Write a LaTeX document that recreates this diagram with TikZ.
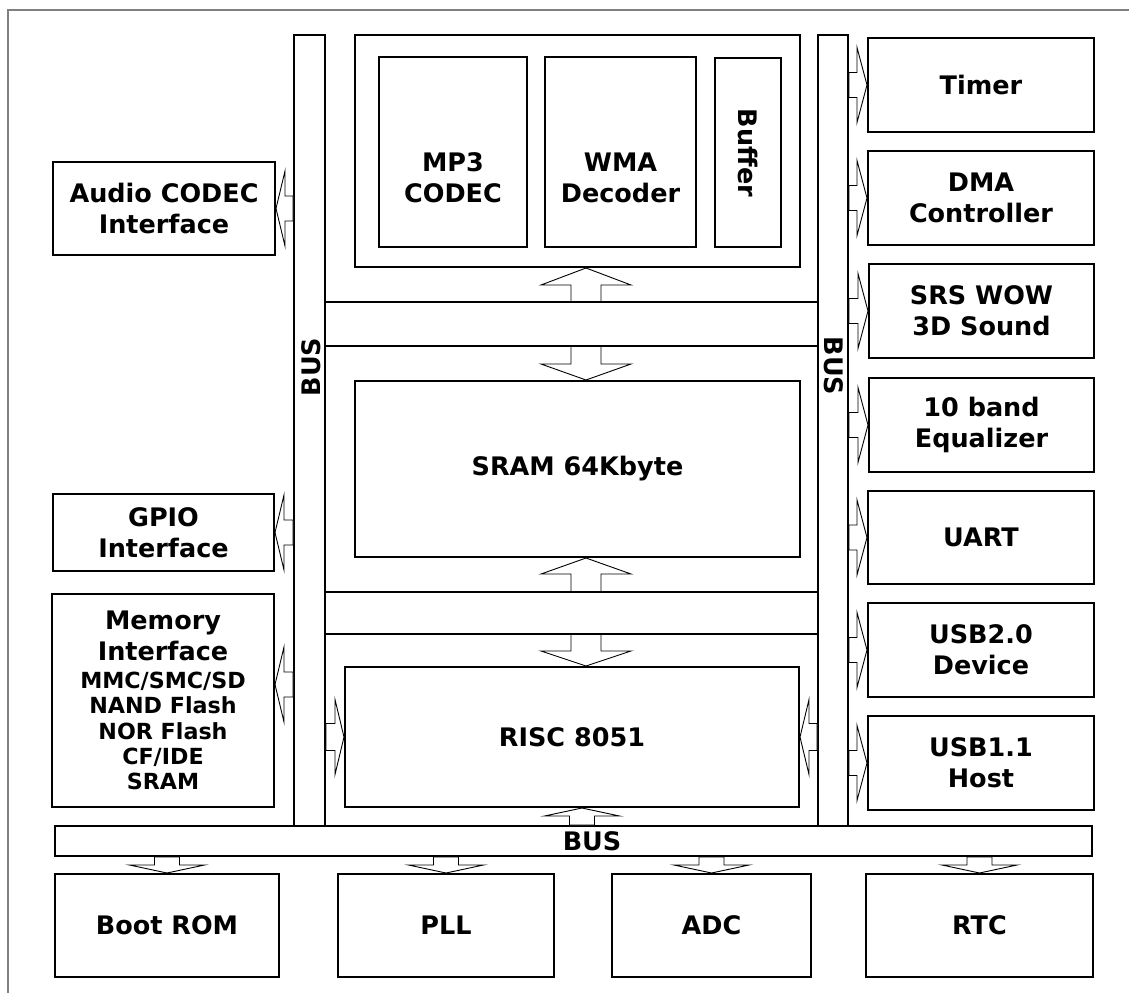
\documentclass[tikz,border=0pt]{standalone}
\usepackage{fontspec}
\setmainfont{DejaVu Sans}
\usetikzlibrary{calc}
\tikzset{
  every node/.style={font=\bfseries\fontsize{25.5}{31}\selectfont, align=center, inner sep=0pt},
  box/.style={draw, line width=2pt},
  band/.style={minimum height=0pt, outer sep=0pt},
  bl/.style={line width=2pt},
  blk/.style={draw, fill=white, line width=0.9pt},
  smalltxt/.style={font=\bfseries\fontsize{22.2}{25.3}\selectfont},
  frame/.style={draw=gray, line width=1.5pt}
}
\newcommand\mkbox[6]{\node[box, minimum width={#4-#2}, minimum height={#5-#3}] (#1) at ({(#2+#4)/2},{(#3+#5)/2}) {#6};}
% horizontal block arrow: tail, tip, shaft half, head half, head length
\newcommand\harr[5]{\draw[blk] let \p1=#1, \p2=#2, \p3=($#2!#5!#1$) in
 ({\x1},{\y2+#3}) -- ({\x3},{\y2+#3}) -- ({\x3},{\y2+#4}) -- ({\x2},{\y2}) -- ({\x3},{\y2-#4}) -- ({\x3},{\y2-#3}) -- ({\x1},{\y2-#3}) -- cycle;}
% vertical block arrow
\newcommand\varr[5]{\draw[blk] let \p1=#1, \p2=#2, \p3=($#2!#5!#1$) in
 ({\x2+#3},{\y1}) -- ({\x2+#3},{\y3}) -- ({\x2+#4},{\y3}) -- ({\x2},{\y2}) -- ({\x2-#4},{\y3}) -- ({\x2-#3},{\y3}) -- ({\x2-#3},{\y1}) -- cycle;}
\begin{document}
\begin{tikzpicture}[x=1pt,y=-1pt]
\useasboundingbox (0,0) rectangle (1129,993);
\draw[frame] (8,993) -- (8,10) -- (1129,10);

% buses
\mkbox{lbus}{294}{35}{325}{826}{}
\mkbox{rbus}{818}{35}{848}{826}{}
\mkbox{bbus}{55}{826}{1092}{856}{}
\node[rotate=90] (lbusl) at (311,367) {BUS};
\node[rotate=-90] (rbusl) at (834,366) {BUS};
\node (bbusl) at (592,841) {BUS};

% central blocks
\mkbox{topc}{355}{35}{800}{267}{}
\mkbox{mp3}{379}{57}{527}{247}{}
\mkbox{wma}{545}{57}{696}{247}{}
\mkbox{buf}{715}{58}{781}{247}{}
\node (mp3t) at (453,178) {MP3\\CODEC};
\node (wmat) at (620.5,178) {WMA\\Decoder};
\node[rotate=-90] (buft) at (748,153) {Buffer};
\mkbox{sram}{355}{381}{800}{557}{SRAM 64Kbyte}
\mkbox{risc}{345}{667}{799}{807}{RISC 8051}

% bands
\node[band, minimum width=493, minimum height=44] (b1) at (571.5,324) {};
\node[band, minimum width=493, minimum height=42] (b2) at (571.5,613) {};

% left blocks
\mkbox{audio}{53}{162}{275}{255}{Audio CODEC\\Interface}
\mkbox{gpio}{53}{494}{274}{571}{GPIO\\Interface}
\mkbox{mem}{52}{594}{274}{807}{}
\node (memt1) at (163,636) {Memory\\Interface};
\node[smalltxt] (memt2) at (163,731) {MMC/SMC/SD\\NAND Flash\\NOR Flash\\CF/IDE\\SRAM};

% right blocks
\mkbox{timer}{868}{38}{1094}{132}{Timer}
\mkbox{dma}{868}{151}{1094}{245}{DMA\\Controller}
\mkbox{srs}{869}{264}{1094}{358}{SRS WOW\\3D Sound}
\mkbox{eq}{869}{378}{1094}{472}{10 band\\Equalizer}
\mkbox{uart}{868}{491}{1094}{584}{UART}
\mkbox{usb2}{868}{603}{1094}{697}{USB2.0\\Device}
\mkbox{usb1}{868}{716}{1094}{810}{USB1.1\\Host}

% bottom blocks
\mkbox{boot}{55}{874}{279}{977}{Boot ROM}
\mkbox{pll}{338}{874}{554}{977}{PLL}
\mkbox{adc}{612}{874}{811}{977}{ADC}
\mkbox{rtc}{866}{874}{1093}{977}{RTC}

% arrows
\coordinate (ax) at (586,0);
\coordinate (bx) at (582,0);
\varr{(b1.north -| ax)}{(topc.south -| ax)}{15pt}{45pt}{17pt}
\varr{(b1.south -| ax)}{(sram.north -| ax)}{15pt}{45pt}{16pt}
\varr{(b2.north -| ax)}{(sram.south -| ax)}{15pt}{45pt}{16pt}
\varr{(b2.south -| ax)}{(risc.north -| ax)}{15pt}{45pt}{15pt}
\varr{(bbus.north -| bx)}{(risc.south -| bx)}{12.5pt}{37.5pt}{8pt}
\harr{(lbus.east |- risc.west)}{(risc.west)}{13.5pt}{37.5pt}{9pt}
\harr{(rbus.west |- risc.east)}{(risc.east)}{13.5pt}{37.5pt}{9pt}

\harr{(lbus.west |- audio.east)}{(audio.east)}{12.5pt}{37.5pt}{9pt}
\harr{(lbus.west |- gpio.east)}{(gpio.east)}{12.5pt}{37.5pt}{9pt}
\harr{($(lbus.west |- mem.east)+(0,-16)$)}{($(mem.east)+(0,-16)$)}{12.5pt}{37.5pt}{9pt}

\foreach \b in {timer,dma,srs,eq,uart,usb2,usb1}{
  \harr{(rbus.east |- \b.west)}{(\b.west)}{12.5pt}{37.5pt}{10pt}
}
\foreach \b in {boot,pll,adc,rtc}{
  \varr{(bbus.south -| \b.north)}{(\b.north)}{12.5pt}{37.5pt}{8pt}
}

% band lines
\draw[bl] (b1.north west) -- (b1.north east);
\draw[bl] (b1.south west) -- (b1.south east);
\draw[bl] (b2.north west) -- (b2.north east);
\draw[bl] (b2.south west) -- (b2.south east);
\end{tikzpicture}
\end{document}
